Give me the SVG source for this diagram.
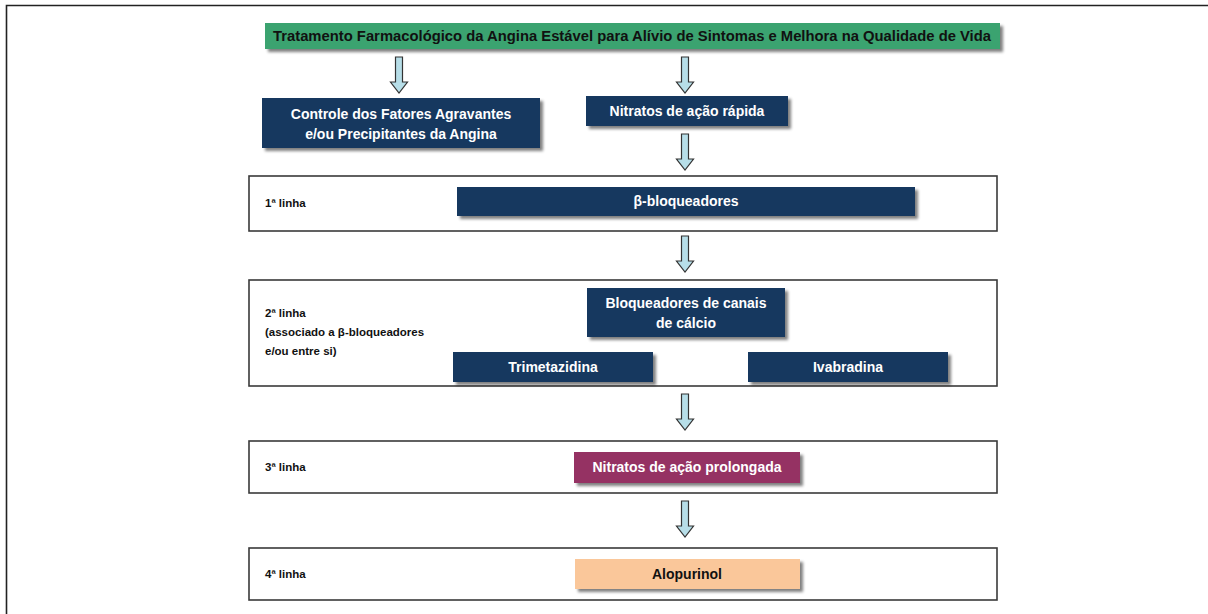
<svg xmlns="http://www.w3.org/2000/svg" width="1208" height="614" viewBox="0 0 1208 614">
<defs>
<filter id="sh" x="-10%" y="-30%" width="120%" height="170%">
<feGaussianBlur in="SourceAlpha" stdDeviation="1.5"/>
<feOffset dx="3" dy="3" result="b"/>
<feComponentTransfer><feFuncA type="linear" slope="0.5"/></feComponentTransfer>
<feMerge><feMergeNode/><feMergeNode in="SourceGraphic"/></feMerge>
</filter>
<path id="arr" d="M-3.5,0 H3.5 V25 H8.5 L0,36 L-8.5,25 H-3.5 Z"/>
</defs>
<style>
text{font-family:"Liberation Sans",Arial,sans-serif;font-weight:bold;font-size:14px}
.w{fill:#ffffff;text-anchor:middle}
.k{fill:#111111;text-anchor:middle}
.l{fill:#111111;font-size:11.5px}
.navy{fill:#17375E;filter:url(#sh)}
.row{fill:#ffffff;stroke:#3a3a3a;stroke-width:1.6}
.ar{fill:#B7DEE8;stroke:#333333;stroke-width:1.2}
</style>
<rect width="1208" height="614" fill="#ffffff"/>
<g id="frame">
<path d="M6.5,614 V5.5 H1208" fill="none" stroke="#222" stroke-width="1.6"/>
</g>
<g id="rows">
<rect class="row" x="249" y="176" width="748" height="55"/>
<rect class="row" x="249" y="280" width="748" height="106"/>
<rect class="row" x="249" y="441" width="748" height="52"/>
<rect class="row" x="249" y="548" width="748" height="52"/>
<text class="l" x="265" y="207">1ª linha</text>
<text class="l" x="265" y="317">2ª linha</text>
<text class="l" x="265" y="336">(associado a β-bloqueadores</text>
<text class="l" x="265" y="355">e/ou entre si)</text>
<text class="l" x="265" y="471">3ª linha</text>
<text class="l" x="265" y="578">4ª linha</text>
</g>
<g id="connectors">
<use href="#arr" class="ar" x="399" y="57"/>
<use href="#arr" class="ar" x="685" y="57"/>
<use href="#arr" class="ar" x="685" y="134"/>
<use href="#arr" class="ar" x="685" y="236"/>
<use href="#arr" class="ar" x="685" y="394"/>
<use href="#arr" class="ar" x="685" y="501"/>
</g>
<g id="title">
<rect x="265" y="23" width="735" height="26" fill="#3AA36F" filter="url(#sh)"/>
<text class="k" x="632" y="41" style="font-size:14.5px" textLength="718" lengthAdjust="spacingAndGlyphs">Tratamento Farmacológico da Angina Estável para Alívio de Sintomas e Melhora na Qualidade de Vida</text>
</g>
<g id="controle">
<rect class="navy" x="262" y="98" width="278" height="50"/>
<text class="w" x="401" y="119">Controle dos Fatores Agravantes</text>
<text class="w" x="401" y="139">e/ou Precipitantes da Angina</text>
</g>
<g id="nitratos-rapida">
<rect class="navy" x="586" y="96" width="202" height="30"/>
<text class="w" x="687" y="116">Nitratos de ação rápida</text>
</g>
<g id="beta">
<rect class="navy" x="457" y="187" width="458" height="29"/>
<text class="w" x="686" y="206">β-bloqueadores</text>
</g>
<g id="bcc">
<rect class="navy" x="587" y="288" width="198" height="49"/>
<text class="w" x="686" y="308">Bloqueadores de canais</text>
<text class="w" x="686" y="328">de cálcio</text>
</g>
<g id="trimetazidina">
<rect class="navy" x="453" y="352" width="200" height="30"/>
<text class="w" x="553" y="372">Trimetazidina</text>
</g>
<g id="ivabradina">
<rect class="navy" x="748" y="352" width="200" height="30"/>
<text class="w" x="848" y="372">Ivabradina</text>
</g>
<g id="nitratos-prolongada">
<rect x="574" y="452" width="226" height="31" fill="#953163" filter="url(#sh)"/>
<text class="w" x="687" y="472">Nitratos de ação prolongada</text>
</g>
<g id="alopurinol">
<rect x="575" y="559" width="225" height="30" fill="#FAC79A" filter="url(#sh)"/>
<text class="k" x="687" y="579">Alopurinol</text>
</g>
</svg>
